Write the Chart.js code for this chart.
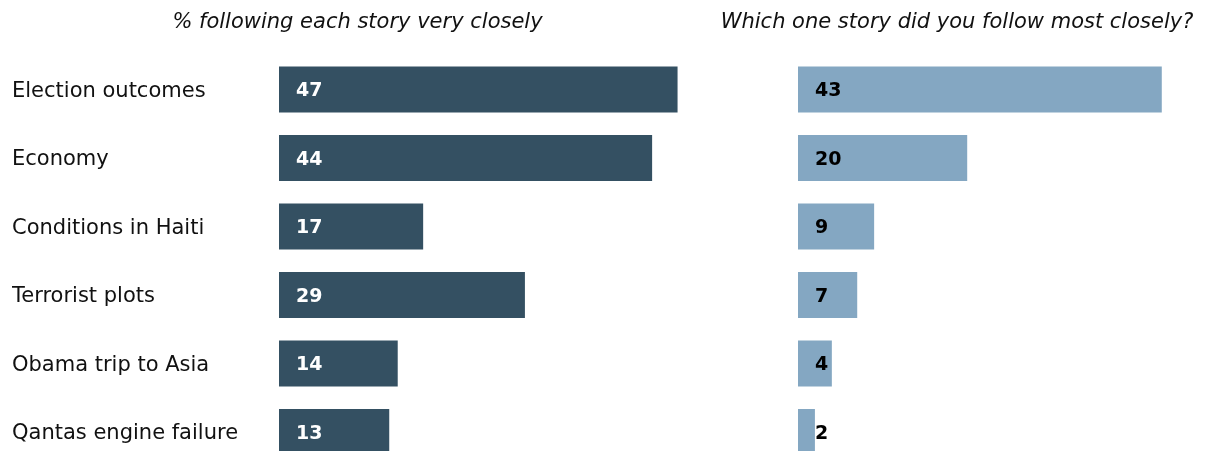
<!DOCTYPE html>
<html>
<head>
<meta charset="utf-8">
<script src="https://cdn.jsdelivr.net/npm/chart.js@4.4.1/dist/chart.umd.min.js"></script>
<style>
html, body { margin: 0; padding: 0; background: #fff; overflow: hidden; }
#wrap { position: relative; width: 1209px; height: 451px; overflow: hidden; }
canvas { position: absolute; top: 0; }
</style>
</head>
<body>
<div id="wrap">
  <canvas id="leftChart" width="703" height="470" style="left:0"></canvas>
  <canvas id="rightChart" width="528" height="470" style="left:693px"></canvas>
</div>
<script>
let stories = ["Election outcomes", "Economy", "Conditions in Haiti", "Terrorist plots", "Obama trip to Asia", "Qantas engine failure"];
let veryClosely = [47, 44, 17, 29, 14, 13];
let mostClosely = [43, 20, 9, 7, 4, 2];
let leftTitle = "% following each story very closely";
let rightTitle = "Which one story did you follow most closely?";

Chart.defaults.font.family = "'DejaVu Sans', Verdana, sans-serif";
Chart.defaults.color = "#111";

// draws the value just inside the start of each bar
function valueLabels(color) {
    return {
        id: "valueLabels",
        afterDatasetsDraw(chart) {
            let ctx = chart.ctx;
            let meta = chart.getDatasetMeta(0);
            ctx.save();
            ctx.font = "bold 19px 'DejaVu Sans', Verdana, sans-serif";
            ctx.fillStyle = color;
            ctx.textBaseline = "middle";
            meta.data.forEach((bar, i) => {
                ctx.fillText(chart.data.datasets[0].data[i], bar.base + 17, bar.y + 2);
            });
            ctx.restore();
        }
    };
}

function makeChart(id, values, color, labelColor, title, showLabels, padLeft, axisWidth) {
    let ctx = document.getElementById(id).getContext("2d");
    return new Chart(ctx, {
        type: "bar",
        data: {
            labels: stories,
            datasets: [{
                data: values,
                backgroundColor: color,
                borderWidth: 0,
                categoryPercentage: 1,
                barPercentage: 0.67
            }]
        },
        options: {
            indexAxis: "y",
            responsive: false,
            animation: false,
            layout: { padding: { left: padLeft, right: 0, top: 0, bottom: 3.75 } },
            plugins: {
                legend: { display: false },
                tooltip: { enabled: false },
                title: {
                    display: true,
                    text: title,
                    color: "#111",
                    font: { size: 21, style: "italic", weight: "normal", lineHeight: 1.2 },
                    padding: { top: 10, bottom: 20.05 }
                }
            },
            scales: {
                x: { display: false, min: 0, max: 50 },
                y: {
                    grid: { display: false },
                    border: { display: false },
                    ticks: { display: showLabels, crossAlign: "far", labelOffset: 2, font: { size: 21 }, color: "#111" },
                    afterFit(scale) {
                        scale.width = axisWidth;
                        scale.paddingTop = 0;
                        scale.paddingBottom = 0;
                    }
                }
            }
        },
        plugins: [valueLabels(labelColor)]
    });
}

makeChart("leftChart", veryClosely, "#345062", "#ffffff", leftTitle, true, 12, 267);
makeChart("rightChart", mostClosely, "#84a7c2", "#000000", rightTitle, false, 0, 105);
</script>
</body>
</html>
